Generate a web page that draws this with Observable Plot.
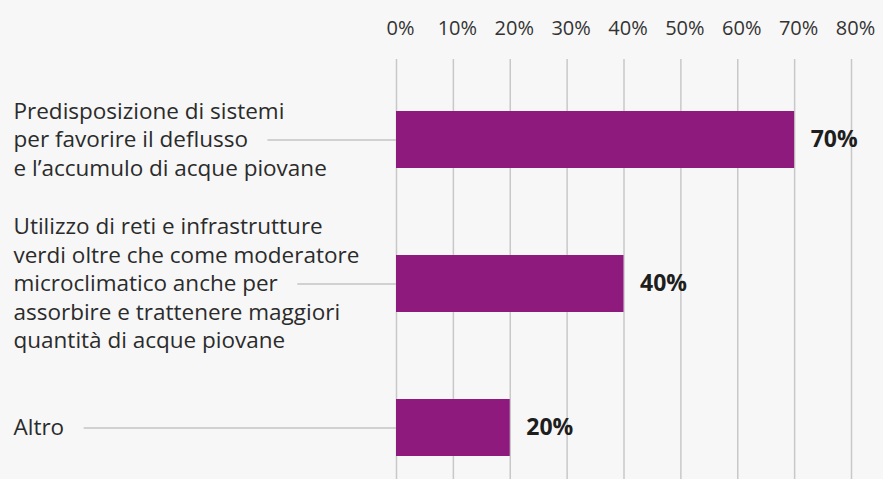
<!DOCTYPE html>
<html>
<head>
<meta charset="utf-8">
<script src="https://cdn.jsdelivr.net/npm/d3@7"></script>
<script src="https://cdn.jsdelivr.net/npm/@observablehq/plot@0.6"></script>
<style>
  html, body { margin: 0; padding: 0; background: #f7f7f7; }
  #chart svg { display: block; }
</style>
</head>
<body>
<div id="chart"></div>
<script>
const categories = [
  "Predisposizione di sistemi\nper favorire il deflusso\ne l’accumulo di acque piovane",
  "Utilizzo di reti e infrastrutture\nverdi oltre che come moderatore\nmicroclimatico anche per\nassorbire e trattenere maggiori\nquantità di acque piovane",
  "Altro"
];
const values = [0.70, 0.40, 0.20];
const xTicks = [0, 0.1, 0.2, 0.3, 0.4, 0.5, 0.6, 0.7, 0.8];

const data = categories.map((c, i) => ({label: c, value: values[i]}));

const FONT = "'Open Sans', 'Noto Sans', sans-serif";
const LABEL_FS = 22.5;
const LABEL_DX = -383;
const PURPLE = "#8d1a7c";
const GRID = "#c8c8c8";

function leaders(index, scales, vals, dimensions) {
  const g = d3.create("svg:g");
  const ctx = document.createElement("canvas").getContext("2d");
  ctx.font = `${LABEL_FS}px ${FONT}`;
  const bw = typeof scales.y.bandwidth === "function" ? scales.y.bandwidth() : scales.y.bandwidth;
  const textLeft = dimensions.marginLeft + LABEL_DX;
  data.forEach(d => {
    const lines = d.label.split("\n");
    const mid = lines[Math.floor(lines.length / 2)];
    const x1 = textLeft + ctx.measureText(mid).width + 20;
    const yy = scales.y(d.label) + bw / 2 + 0.5;
    g.append("line")
      .attr("x1", x1).attr("x2", scales.x(0))
      .attr("y1", yy).attr("y2", yy)
      .attr("stroke", "#c4c4c4").attr("stroke-width", 1.5);
  });
  return g.node();
}

const plot = Plot.plot({
  width: 883,
  height: 479,
  marginLeft: 396,
  marginRight: 32,
  marginTop: 59,
  marginBottom: 0,
  style: {background: "#f7f7f7", fontFamily: FONT, color: "#2b2b2b"},
  x: {domain: [0, 0.8], axis: null},
  y: {domain: categories, range: [66.6, 500], paddingInner: 0.606, paddingOuter: 0.3, axis: null},
  marks: [
    Plot.gridX(xTicks, {stroke: GRID, strokeOpacity: 1, strokeWidth: 1.5}),
    Plot.axisX(xTicks, {anchor: "top", tickSize: 0, tickPadding: 25, dx: 4,
      tickFormat: d3.format(".0%"), fontSize: 20, fill: "#333", label: null}),
    leaders,
    Plot.barX(data, {x: "value", y: "label", fill: PURPLE}),
    Plot.text(data, {x: "value", y: "label", text: d => d3.format(".0%")(d.value),
      dx: 16, textAnchor: "start", fontWeight: "bold", fontSize: 23, fill: "#1e1e1e"}),
    Plot.text(data, {y: "label", text: "label", frameAnchor: "left", textAnchor: "start",
      dx: LABEL_DX, dy: -2, lineHeight: 1.27, fontSize: LABEL_FS, fill: "#2b2b2b"})
  ]
});
document.getElementById("chart").appendChild(plot);
</script>
</body>
</html>
